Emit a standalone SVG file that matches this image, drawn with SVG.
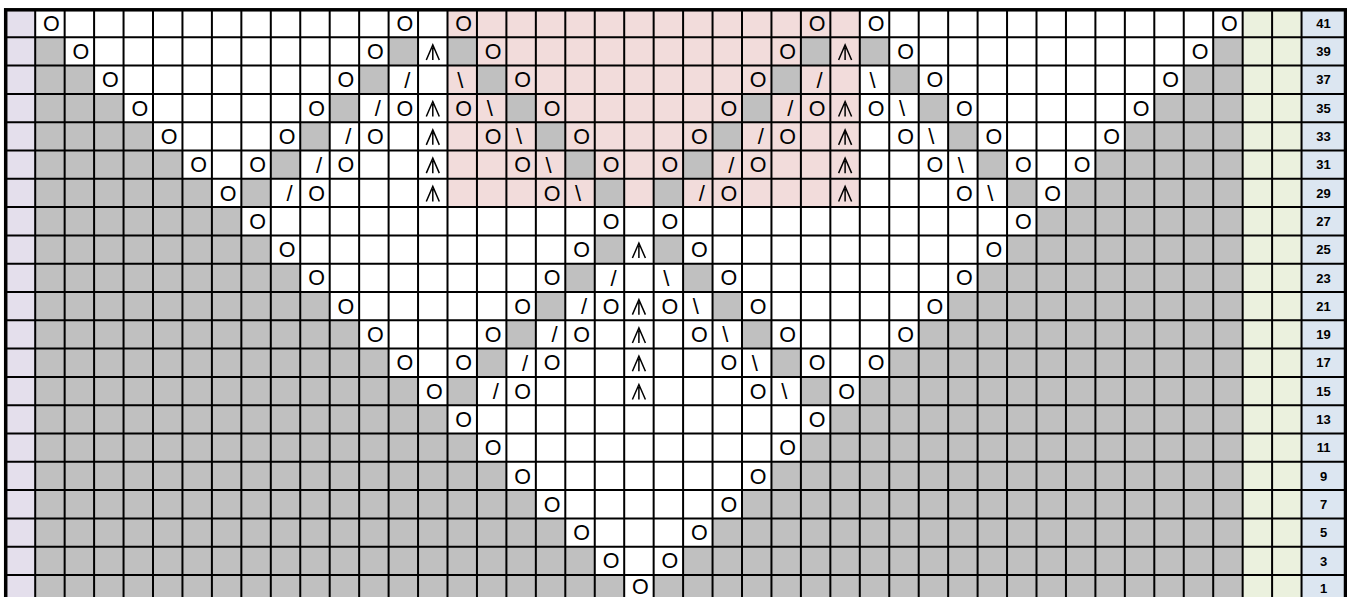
<svg xmlns="http://www.w3.org/2000/svg" width="1347" height="597" viewBox="0 0 1347 597">
<style>
.g{fill:#c0c0c0}
.o{font-family:"Liberation Sans",Arial,sans-serif;font-size:21.5px;text-anchor:middle;fill:#000}
.s{font-family:"Liberation Sans",Arial,sans-serif;font-size:22px;text-anchor:middle;fill:#000}
.n{font-family:"Liberation Sans",Arial,sans-serif;font-size:13px;font-weight:bold;text-anchor:middle;fill:#000}
.grid{stroke:#000;stroke-width:2;fill:none}
</style>
<defs>
<path id="cdd" d="M-6.5,7.5 L0,-7.5 L6.5,7.5 M0,-5 V7.5" stroke="#000" stroke-width="1.5" fill="none"/>
</defs>
<rect width="1347" height="597" fill="#fff"/>
<g id="columns">
<rect x="6" y="9" width="29.2" height="595" fill="#e4dfec"/>
<rect x="1242.65" y="9" width="58.9" height="595" fill="#ebf1de"/>
<rect x="1301.55" y="9" width="44" height="595" fill="#dce6f1"/>
<rect x="447.5" y="9" width="412.3" height="198.1" fill="#f2dcdb"/>
</g>
<g id="row41" transform="translate(0,23.15)">
<text class="o" x="51.4" y="7.6">O</text><text class="o" x="404.8" y="7.6">O</text><text class="o" x="463.7" y="7.6">O</text><text class="o" x="817.1" y="7.6">O</text><text class="o" x="876.0" y="7.6">O</text><text class="o" x="1229.4" y="7.6">O</text>
<text class="n" x="1323.5" y="4.7">41</text>
</g>
<g id="row39" transform="translate(0,51.45)">
<rect class="g" x="35.2" y="-14.15" width="29.45" height="28.3"/><rect class="g" x="1213.2" y="-14.15" width="29.45" height="28.3"/>
<rect class="g" x="388.6" y="-14.15" width="29.45" height="28.3"/><rect class="g" x="447.5" y="-14.15" width="29.45" height="28.3"/><rect class="g" x="800.9" y="-14.15" width="29.45" height="28.3"/><rect class="g" x="859.8" y="-14.15" width="29.45" height="28.3"/>
<text class="o" x="80.9" y="7.6">O</text><text class="o" x="375.4" y="7.6">O</text><text class="o" x="493.2" y="7.6">O</text><text class="o" x="787.7" y="7.6">O</text><text class="o" x="905.5" y="7.6">O</text><text class="o" x="1200.0" y="7.6">O</text>
<use href="#cdd" x="432.8" y="1"/><use href="#cdd" x="845.1" y="1"/>
<text class="n" x="1323.5" y="4.7">39</text>
</g>
<g id="row37" transform="translate(0,79.75)">
<rect class="g" x="35.2" y="-14.15" width="58.9" height="28.3"/><rect class="g" x="1183.75" y="-14.15" width="58.9" height="28.3"/>
<rect class="g" x="359.15" y="-14.15" width="29.45" height="28.3"/><rect class="g" x="476.95" y="-14.15" width="29.45" height="28.3"/><rect class="g" x="771.45" y="-14.15" width="29.45" height="28.3"/><rect class="g" x="889.25" y="-14.15" width="29.45" height="28.3"/>
<text class="o" x="110.3" y="7.6">O</text><text class="o" x="345.9" y="7.6">O</text><text class="o" x="522.6" y="7.6">O</text><text class="o" x="758.2" y="7.6">O</text><text class="o" x="934.9" y="7.6">O</text><text class="o" x="1170.5" y="7.6">O</text>
<text class="s" x="407.3" y="8">/</text><text class="s" x="819.6" y="8">/</text><text class="s" x="460.2" y="8">\</text><text class="s" x="872.5" y="8">\</text>
<text class="n" x="1323.5" y="4.7">37</text>
</g>
<g id="row35" transform="translate(0,108.05)">
<rect class="g" x="35.2" y="-14.15" width="88.35" height="28.3"/><rect class="g" x="1154.3" y="-14.15" width="88.35" height="28.3"/>
<rect class="g" x="329.7" y="-14.15" width="29.45" height="28.3"/><rect class="g" x="506.4" y="-14.15" width="29.45" height="28.3"/><rect class="g" x="742.0" y="-14.15" width="29.45" height="28.3"/><rect class="g" x="918.7" y="-14.15" width="29.45" height="28.3"/>
<text class="o" x="139.8" y="7.6">O</text><text class="o" x="316.5" y="7.6">O</text><text class="o" x="404.8" y="7.6">O</text><text class="o" x="463.7" y="7.6">O</text><text class="o" x="552.1" y="7.6">O</text><text class="o" x="728.8" y="7.6">O</text><text class="o" x="817.1" y="7.6">O</text><text class="o" x="876.0" y="7.6">O</text><text class="o" x="964.4" y="7.6">O</text><text class="o" x="1141.1" y="7.6">O</text>
<text class="s" x="377.9" y="8">/</text><text class="s" x="790.2" y="8">/</text><text class="s" x="489.7" y="8">\</text><text class="s" x="902.0" y="8">\</text>
<use href="#cdd" x="432.8" y="1"/><use href="#cdd" x="845.1" y="1"/>
<text class="n" x="1323.5" y="4.7">35</text>
</g>
<g id="row33" transform="translate(0,136.35)">
<rect class="g" x="35.2" y="-14.15" width="117.8" height="28.3"/><rect class="g" x="1124.85" y="-14.15" width="117.8" height="28.3"/>
<rect class="g" x="300.25" y="-14.15" width="29.45" height="28.3"/><rect class="g" x="535.85" y="-14.15" width="29.45" height="28.3"/><rect class="g" x="712.55" y="-14.15" width="29.45" height="28.3"/><rect class="g" x="948.15" y="-14.15" width="29.45" height="28.3"/>
<text class="o" x="169.2" y="7.6">O</text><text class="o" x="287.0" y="7.6">O</text><text class="o" x="375.4" y="7.6">O</text><text class="o" x="493.2" y="7.6">O</text><text class="o" x="581.5" y="7.6">O</text><text class="o" x="699.3" y="7.6">O</text><text class="o" x="787.7" y="7.6">O</text><text class="o" x="905.5" y="7.6">O</text><text class="o" x="993.8" y="7.6">O</text><text class="o" x="1111.6" y="7.6">O</text>
<text class="s" x="348.4" y="8">/</text><text class="s" x="760.7" y="8">/</text><text class="s" x="519.1" y="8">\</text><text class="s" x="931.4" y="8">\</text>
<use href="#cdd" x="432.8" y="1"/><use href="#cdd" x="845.1" y="1"/>
<text class="n" x="1323.5" y="4.7">33</text>
</g>
<g id="row31" transform="translate(0,164.65)">
<rect class="g" x="35.2" y="-14.15" width="147.25" height="28.3"/><rect class="g" x="1095.4" y="-14.15" width="147.25" height="28.3"/>
<rect class="g" x="270.8" y="-14.15" width="29.45" height="28.3"/><rect class="g" x="565.3" y="-14.15" width="29.45" height="28.3"/><rect class="g" x="683.1" y="-14.15" width="29.45" height="28.3"/><rect class="g" x="977.6" y="-14.15" width="29.45" height="28.3"/>
<text class="o" x="198.7" y="7.6">O</text><text class="o" x="257.6" y="7.6">O</text><text class="o" x="345.9" y="7.6">O</text><text class="o" x="522.6" y="7.6">O</text><text class="o" x="611.0" y="7.6">O</text><text class="o" x="669.9" y="7.6">O</text><text class="o" x="758.2" y="7.6">O</text><text class="o" x="934.9" y="7.6">O</text><text class="o" x="1023.3" y="7.6">O</text><text class="o" x="1082.2" y="7.6">O</text>
<text class="s" x="319.0" y="8">/</text><text class="s" x="731.3" y="8">/</text><text class="s" x="548.6" y="8">\</text><text class="s" x="960.9" y="8">\</text>
<use href="#cdd" x="432.8" y="1"/><use href="#cdd" x="845.1" y="1"/>
<text class="n" x="1323.5" y="4.7">31</text>
</g>
<g id="row29" transform="translate(0,192.95)">
<rect class="g" x="35.2" y="-14.15" width="176.7" height="28.3"/><rect class="g" x="1065.95" y="-14.15" width="176.7" height="28.3"/>
<rect class="g" x="241.35" y="-14.15" width="29.45" height="28.3"/><rect class="g" x="594.75" y="-14.15" width="29.45" height="28.3"/><rect class="g" x="653.65" y="-14.15" width="29.45" height="28.3"/><rect class="g" x="1007.05" y="-14.15" width="29.45" height="28.3"/>
<text class="o" x="228.1" y="7.6">O</text><text class="o" x="316.5" y="7.6">O</text><text class="o" x="552.1" y="7.6">O</text><text class="o" x="728.8" y="7.6">O</text><text class="o" x="964.4" y="7.6">O</text><text class="o" x="1052.7" y="7.6">O</text>
<text class="s" x="289.5" y="8">/</text><text class="s" x="701.8" y="8">/</text><text class="s" x="578.0" y="8">\</text><text class="s" x="990.3" y="8">\</text>
<use href="#cdd" x="432.8" y="1"/><use href="#cdd" x="845.1" y="1"/>
<text class="n" x="1323.5" y="4.7">29</text>
</g>
<g id="row27" transform="translate(0,221.25)">
<rect class="g" x="35.2" y="-14.15" width="206.15" height="28.3"/><rect class="g" x="1036.5" y="-14.15" width="206.15" height="28.3"/>
<text class="o" x="257.6" y="7.6">O</text><text class="o" x="611.0" y="7.6">O</text><text class="o" x="669.9" y="7.6">O</text><text class="o" x="1023.3" y="7.6">O</text>
<text class="n" x="1323.5" y="4.7">27</text>
</g>
<g id="row25" transform="translate(0,249.55)">
<rect class="g" x="35.2" y="-14.15" width="235.6" height="28.3"/><rect class="g" x="1007.05" y="-14.15" width="235.6" height="28.3"/>
<rect class="g" x="594.75" y="-14.15" width="29.45" height="28.3"/><rect class="g" x="653.65" y="-14.15" width="29.45" height="28.3"/>
<text class="o" x="287.0" y="7.6">O</text><text class="o" x="581.5" y="7.6">O</text><text class="o" x="699.3" y="7.6">O</text><text class="o" x="993.8" y="7.6">O</text>
<use href="#cdd" x="638.9" y="1"/>
<text class="n" x="1323.5" y="4.7">25</text>
</g>
<g id="row23" transform="translate(0,277.85)">
<rect class="g" x="35.2" y="-14.15" width="265.05" height="28.3"/><rect class="g" x="977.6" y="-14.15" width="265.05" height="28.3"/>
<rect class="g" x="565.3" y="-14.15" width="29.45" height="28.3"/><rect class="g" x="683.1" y="-14.15" width="29.45" height="28.3"/>
<text class="o" x="316.5" y="7.6">O</text><text class="o" x="552.1" y="7.6">O</text><text class="o" x="728.8" y="7.6">O</text><text class="o" x="964.4" y="7.6">O</text>
<text class="s" x="613.5" y="8">/</text><text class="s" x="666.4" y="8">\</text>
<text class="n" x="1323.5" y="4.7">23</text>
</g>
<g id="row21" transform="translate(0,306.15)">
<rect class="g" x="35.2" y="-14.15" width="294.5" height="28.3"/><rect class="g" x="948.15" y="-14.15" width="294.5" height="28.3"/>
<rect class="g" x="535.85" y="-14.15" width="29.45" height="28.3"/><rect class="g" x="712.55" y="-14.15" width="29.45" height="28.3"/>
<text class="o" x="345.9" y="7.6">O</text><text class="o" x="522.6" y="7.6">O</text><text class="o" x="611.0" y="7.6">O</text><text class="o" x="669.9" y="7.6">O</text><text class="o" x="758.2" y="7.6">O</text><text class="o" x="934.9" y="7.6">O</text>
<text class="s" x="584.0" y="8">/</text><text class="s" x="695.8" y="8">\</text>
<use href="#cdd" x="638.9" y="1"/>
<text class="n" x="1323.5" y="4.7">21</text>
</g>
<g id="row19" transform="translate(0,334.45)">
<rect class="g" x="35.2" y="-14.15" width="323.95" height="28.3"/><rect class="g" x="918.7" y="-14.15" width="323.95" height="28.3"/>
<rect class="g" x="506.4" y="-14.15" width="29.45" height="28.3"/><rect class="g" x="742.0" y="-14.15" width="29.45" height="28.3"/>
<text class="o" x="375.4" y="7.6">O</text><text class="o" x="493.2" y="7.6">O</text><text class="o" x="581.5" y="7.6">O</text><text class="o" x="699.3" y="7.6">O</text><text class="o" x="787.7" y="7.6">O</text><text class="o" x="905.5" y="7.6">O</text>
<text class="s" x="554.6" y="8">/</text><text class="s" x="725.3" y="8">\</text>
<use href="#cdd" x="638.9" y="1"/>
<text class="n" x="1323.5" y="4.7">19</text>
</g>
<g id="row17" transform="translate(0,362.75)">
<rect class="g" x="35.2" y="-14.15" width="353.4" height="28.3"/><rect class="g" x="889.25" y="-14.15" width="353.4" height="28.3"/>
<rect class="g" x="476.95" y="-14.15" width="29.45" height="28.3"/><rect class="g" x="771.45" y="-14.15" width="29.45" height="28.3"/>
<text class="o" x="404.8" y="7.6">O</text><text class="o" x="463.7" y="7.6">O</text><text class="o" x="552.1" y="7.6">O</text><text class="o" x="728.8" y="7.6">O</text><text class="o" x="817.1" y="7.6">O</text><text class="o" x="876.0" y="7.6">O</text>
<text class="s" x="525.1" y="8">/</text><text class="s" x="754.7" y="8">\</text>
<use href="#cdd" x="638.9" y="1"/>
<text class="n" x="1323.5" y="4.7">17</text>
</g>
<g id="row15" transform="translate(0,391.05)">
<rect class="g" x="35.2" y="-14.15" width="382.85" height="28.3"/><rect class="g" x="859.8" y="-14.15" width="382.85" height="28.3"/>
<rect class="g" x="447.5" y="-14.15" width="29.45" height="28.3"/><rect class="g" x="800.9" y="-14.15" width="29.45" height="28.3"/>
<text class="o" x="434.3" y="7.6">O</text><text class="o" x="522.6" y="7.6">O</text><text class="o" x="758.2" y="7.6">O</text><text class="o" x="846.6" y="7.6">O</text>
<text class="s" x="495.7" y="8">/</text><text class="s" x="784.2" y="8">\</text>
<use href="#cdd" x="638.9" y="1"/>
<text class="n" x="1323.5" y="4.7">15</text>
</g>
<g id="row13" transform="translate(0,419.35)">
<rect class="g" x="35.2" y="-14.15" width="412.3" height="28.3"/><rect class="g" x="830.35" y="-14.15" width="412.3" height="28.3"/>
<text class="o" x="463.7" y="7.6">O</text><text class="o" x="817.1" y="7.6">O</text>
<text class="n" x="1323.5" y="4.7">13</text>
</g>
<g id="row11" transform="translate(0,447.65)">
<rect class="g" x="35.2" y="-14.15" width="441.75" height="28.3"/><rect class="g" x="800.9" y="-14.15" width="441.75" height="28.3"/>
<text class="o" x="493.2" y="7.6">O</text><text class="o" x="787.7" y="7.6">O</text>
<text class="n" x="1323.5" y="4.7">11</text>
</g>
<g id="row9" transform="translate(0,475.95)">
<rect class="g" x="35.2" y="-14.15" width="471.2" height="28.3"/><rect class="g" x="771.45" y="-14.15" width="471.2" height="28.3"/>
<text class="o" x="522.6" y="7.6">O</text><text class="o" x="758.2" y="7.6">O</text>
<text class="n" x="1323.5" y="4.7">9</text>
</g>
<g id="row7" transform="translate(0,504.25)">
<rect class="g" x="35.2" y="-14.15" width="500.65" height="28.3"/><rect class="g" x="742.0" y="-14.15" width="500.65" height="28.3"/>
<text class="o" x="552.1" y="7.6">O</text><text class="o" x="728.8" y="7.6">O</text>
<text class="n" x="1323.5" y="4.7">7</text>
</g>
<g id="row5" transform="translate(0,532.55)">
<rect class="g" x="35.2" y="-14.15" width="530.1" height="28.3"/><rect class="g" x="712.55" y="-14.15" width="530.1" height="28.3"/>
<text class="o" x="581.5" y="7.6">O</text><text class="o" x="699.3" y="7.6">O</text>
<text class="n" x="1323.5" y="4.7">5</text>
</g>
<g id="row3" transform="translate(0,560.85)">
<rect class="g" x="35.2" y="-14.15" width="559.55" height="28.3"/><rect class="g" x="683.1" y="-14.15" width="559.55" height="28.3"/>
<text class="o" x="611.0" y="7.6">O</text><text class="o" x="669.9" y="7.6">O</text>
<text class="n" x="1323.5" y="4.7">3</text>
</g>
<g id="row1" transform="translate(0,589.15)">
<rect class="g" x="35.2" y="-14.15" width="589.0" height="28.3"/><rect class="g" x="653.65" y="-14.15" width="589.0" height="28.3"/>
<text class="o" x="640.4" y="5">O</text>
<text class="n" x="1323.5" y="3.5">1</text>
</g>
<g id="gridlines">
<path class="grid" d="M35.2 9V604M64.65 9V604M94.1 9V604M123.55 9V604M153 9V604M182.45 9V604M211.9 9V604M241.35 9V604M270.8 9V604M300.25 9V604M329.7 9V604M359.15 9V604M388.6 9V604M418.05 9V604M447.5 9V604M476.95 9V604M506.4 9V604M535.85 9V604M565.3 9V604M594.75 9V604M624.2 9V604M653.65 9V604M683.1 9V604M712.55 9V604M742 9V604M771.45 9V604M800.9 9V604M830.35 9V604M859.8 9V604M889.25 9V604M918.7 9V604M948.15 9V604M977.6 9V604M1007.05 9V604M1036.5 9V604M1065.95 9V604M1095.4 9V604M1124.85 9V604M1154.3 9V604M1183.75 9V604M1213.2 9V604M1242.65 9V604M1272.1 9V604M1301.55 9V604"/>
<path class="grid" d="M6 37.3H1346M6 65.6H1346M6 93.9H1346M6 122.2H1346M6 150.5H1346M6 178.8H1346M6 207.1H1346M6 235.4H1346M6 263.7H1346M6 292H1346M6 320.3H1346M6 348.6H1346M6 376.9H1346M6 405.2H1346M6 433.5H1346M6 461.8H1346M6 490.1H1346M6 518.4H1346M6 546.7H1346M6 575H1346"/>
<rect x="5.7" y="9.8" width="1339.8" height="600" fill="none" stroke="#000" stroke-width="3.5"/>
</g>
</svg>
